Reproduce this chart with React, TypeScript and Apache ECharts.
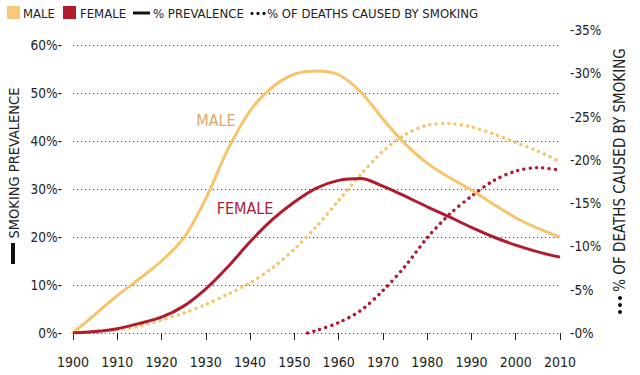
import React, { useEffect, useRef } from "react";
import * as echarts from "echarts";

const FONT = '"Liberation Sans Narrow", "DejaVu Sans Condensed", "Roboto Condensed", "Liberation Sans", sans-serif';

const MALE_COLOR = "#F5C46C";
const MALE_SWATCH = "#F8C77A";
const MALE_TEXT = "#DDA868";
const FEMALE_COLOR = "#B01B2E";

const years = [1900, 1905, 1910, 1915, 1920, 1925, 1930, 1935, 1940, 1945, 1950, 1955, 1960, 1965, 1970, 1975, 1980, 1985, 1990, 1995, 2000, 2005, 2010];
const malePrevalence = [0, 3.9, 7.8, 11.3, 15, 19.8, 28, 38.3, 46.3, 51.2, 53.9, 54.6, 53.8, 50.2, 44.6, 39.4, 35.4, 32.4, 29.8, 26.8, 24, 21.8, 20];
const femalePrevalence = [0, 0.3, 0.9, 2, 3.3, 5.6, 9.2, 13.8, 19, 23.6, 27.3, 30.2, 31.8, 32.2, 30.6, 28.5, 26.3, 24.2, 22, 20, 18.3, 16.9, 15.8];
const maleDeaths = [0, 0.2, 0.4, 0.8, 1.5, 2.3, 3.3, 4.5, 5.8, 7.5, 9.7, 12.3, 15.3, 18.3, 21, 22.9, 24, 24.2, 23.8, 23, 22, 21, 19.8];
const femaleDeathYears = [1953, 1955, 1960, 1965, 1970, 1975, 1980, 1985, 1990, 1995, 2000, 2005, 2010];
const femaleDeaths = [0, 0.3, 1.2, 2.6, 4.9, 7.7, 11, 13.7, 15.8, 17.6, 18.7, 19.1, 18.8];

const leftTicks = { min: 0, max: 60, interval: 10 };
const rightTicks = { min: 0, max: 35, interval: 5 };
const xTicks = { min: 1900, max: 2010, interval: 10 };

const pairs = (xs: number[], ys: number[]) => xs.map((x, i) => [x, ys[i]]);

export default function App() {
  const ref = useRef<HTMLDivElement>(null);
  useEffect(() => {
    if (!ref.current) return;
    const chart = echarts.init(ref.current, null, { renderer: "svg" });
    const gridSide = { left: 73, right: 80, bottom: 42 };
    const xAxisBase = {
      type: "value" as const,
      min: xTicks.min,
      max: xTicks.max,
      interval: xTicks.interval,
      splitLine: { show: false },
    };
    const solid = (color: string) => ({ color, width: 3 });
    const dotted = (color: string) => ({ color, width: 3.4, type: [0.1, 6.2], cap: "round" });
    const legendText = (x: number, text: string) => ({
      type: "text", x, y: 13,
      style: { text, fontFamily: FONT, fontSize: 13, fill: "#222", align: "left", verticalAlign: "middle", textAlign: "left", textVerticalAlign: "middle" },
    });
    chart.setOption({
      animation: false,
      backgroundColor: "#ffffff",
      grid: [
        { ...gridSide, top: 45 },
        { ...gridSide, top: 30 },
      ],
      xAxis: [
        {
          ...xAxisBase,
          gridIndex: 0,
          offset: 15,
          axisLine: { show: false },
          axisTick: { show: true, length: 7, lineStyle: { color: "#222", width: 1 } },
          axisLabel: { fontFamily: FONT, fontSize: 14, color: "#222", margin: 7, formatter: (v: number) => String(v) },
        },
        {
          ...xAxisBase,
          gridIndex: 1,
          show: false,
        },
      ],
      yAxis: [
        {
          type: "value",
          gridIndex: 0,
          ...leftTicks,
          axisLine: { show: false },
          axisTick: { show: false },
          axisLabel: {
            fontFamily: FONT,
            fontSize: 13.5,
            color: "#222",
            margin: 11,
            formatter: (v: number) => `${v}%-`,
          },
          splitLine: { show: true, lineStyle: { color: "#444", width: 1, type: [1.2, 2.8] } },
        },
        {
          type: "value",
          gridIndex: 1,
          position: "right",
          ...rightTicks,
          axisLine: { show: false },
          axisTick: { show: false },
          axisLabel: {
            fontFamily: FONT,
            fontSize: 13.5,
            color: "#222",
            margin: 10,
            formatter: (v: number) => `-${v}%`,
          },
          splitLine: { show: false },
        },
      ],
      series: [
        {
          type: "line",
          name: "Male deaths",
          xAxisIndex: 1,
          yAxisIndex: 1,
          data: pairs(years, maleDeaths),
          smooth: 0.3,
          symbol: "none",
          lineStyle: dotted(MALE_COLOR),
        },
        {
          type: "line",
          name: "Female deaths",
          xAxisIndex: 1,
          yAxisIndex: 1,
          data: pairs(femaleDeathYears, femaleDeaths),
          smooth: 0.3,
          symbol: "none",
          lineStyle: dotted(FEMALE_COLOR),
        },
        {
          type: "line",
          name: "Male prevalence",
          xAxisIndex: 0,
          yAxisIndex: 0,
          data: pairs(years, malePrevalence),
          smooth: 0.3,
          symbol: "none",
          lineStyle: solid(MALE_COLOR),
        },
        {
          type: "line",
          name: "Female prevalence",
          xAxisIndex: 0,
          yAxisIndex: 0,
          data: pairs(years, femalePrevalence),
          smooth: 0.3,
          symbol: "none",
          lineStyle: solid(FEMALE_COLOR),
        },
      ],
      graphic: [
        // legend
        { type: "rect", shape: { x: 7, y: 6, width: 13, height: 13 }, style: { fill: MALE_SWATCH } },
        legendText(23, "MALE"),
        { type: "rect", shape: { x: 63, y: 6, width: 13, height: 13 }, style: { fill: FEMALE_COLOR } },
        legendText(80, "FEMALE"),
        { type: "line", shape: { x1: 133, y1: 13, x2: 150, y2: 13 }, style: { stroke: "#111", lineWidth: 3 } },
        legendText(153, "% PREVALENCE"),
        { type: "circle", shape: { cx: 252, cy: 13.5, r: 1.6 }, style: { fill: "#111" } },
        { type: "circle", shape: { cx: 258, cy: 13.5, r: 1.6 }, style: { fill: "#111" } },
        { type: "circle", shape: { cx: 264, cy: 13.5, r: 1.6 }, style: { fill: "#111" } },
        legendText(267, "% OF DEATHS CAUSED BY SMOKING"),
        // left axis title
        { type: "text", x: 14, y: 163, rotation: Math.PI / 2, style: { text: "SMOKING PREVALENCE", fontFamily: FONT, fontSize: 14.5, fill: "#222", align: "center", verticalAlign: "middle", textAlign: "center", textVerticalAlign: "middle" } },
        { type: "rect", shape: { x: 11, y: 243, width: 4, height: 21 }, style: { fill: "#111" } },
        // right axis title
        { type: "text", x: 620, y: 170, rotation: Math.PI / 2, style: { text: "% OF DEATHS CAUSED BY SMOKING", fontFamily: FONT, fontSize: 15, fill: "#222", align: "center", verticalAlign: "middle", textAlign: "center", textVerticalAlign: "middle" } },
        { type: "circle", shape: { cx: 620, cy: 298, r: 2 }, style: { fill: "#111" } },
        { type: "circle", shape: { cx: 620, cy: 305, r: 2 }, style: { fill: "#111" } },
        { type: "circle", shape: { cx: 620, cy: 312, r: 2 }, style: { fill: "#111" } },
        // annotations
        { type: "text", x: 216, y: 120, style: { text: "MALE", fontFamily: FONT, fontSize: 16, fill: MALE_TEXT, align: "center", verticalAlign: "middle", textAlign: "center", textVerticalAlign: "middle" } },
        { type: "text", x: 245, y: 208, style: { text: "FEMALE", fontFamily: FONT, fontSize: 16, fill: FEMALE_COLOR, align: "center", verticalAlign: "middle", textAlign: "center", textVerticalAlign: "middle" } },
      ],
    });
    return () => chart.dispose();
  }, []);
  return <div ref={ref} style={{ position: "fixed", left: 0, top: 0, width: 640, height: 375, background: "#fff" }} />;
}
